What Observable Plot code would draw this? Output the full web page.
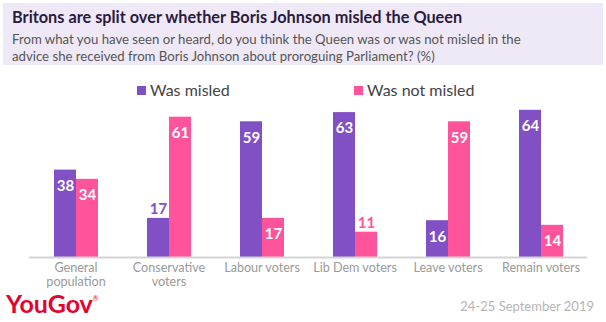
<!DOCTYPE html>
<html><head><meta charset="utf-8">
<script src="https://cdn.jsdelivr.net/npm/d3@7"></script>
<script src="https://cdn.jsdelivr.net/npm/@observablehq/plot@0.6"></script>
<style>
body{margin:0;background:#fff;font-family:Lato,"Open Sans",sans-serif;}
#wrap{position:relative;width:606px;height:322px;overflow:hidden;}
#chart{position:absolute;left:0;top:0;}
#head{position:absolute;left:3px;top:3px;width:600px;height:62px;background:#efe9f7;}
#title{position:absolute;left:9px;top:4px;font-size:16.3px;font-weight:700;color:#2b1b3f;white-space:nowrap;}
#sub{position:absolute;left:9px;top:28px;width:520px;font-size:13.2px;line-height:16.5px;color:#555;}
.leg{position:absolute;top:80px;font-size:16px;color:#444;white-space:nowrap;}
.sw{display:inline-block;width:9px;height:9px;margin-right:4px;vertical-align:1px;}
#logo{position:absolute;left:6px;top:292px;height:22px;font-size:25px;line-height:22px;font-weight:700;color:#e4032e;}
#logo span{position:relative;top:-12px;font-size:7px;font-weight:400;}
#date{position:absolute;right:12px;top:298px;font-size:13px;color:#b5b5b5;}
</style></head>
<body><div id="wrap"></div>
<script>
const title = "Britons are split over whether Boris Johnson misled the Queen";
const subtitle = "From what you have seen or heard, do you think the Queen was or was not misled in the advice she received from Boris Johnson about proroguing Parliament? (%)";
const groups = ["General population","Conservative voters","Labour voters","Lib Dem voters","Leave voters","Remain voters"];
const tickLabels = ["General\npopulation","Conservative\nvoters","Labour voters","Lib Dem voters","Leave voters","Remain voters"];
const series = ["Was misled","Was not misled"];
const colors = ["#8150c5","#ff549b"];
const misled = [38,17,59,63,16,64];
const notMisled = [34,61,17,11,59,14];
// value labels drawn above the bar rather than inside
const misledLabelAbove = ["Conservative voters"];
const notMisledLabelAbove = ["Lib Dem voters"];
const source = "24-25 September 2019";
const brand = "YouGov";

const data = groups.flatMap((g,i)=>[
  {group:g, series:series[0], value:misled[i], above:misledLabelAbove.includes(g)},
  {group:g, series:series[1], value:notMisled[i], above:notMisledLabelAbove.includes(g)}
]);

const plot = Plot.plot({
  width:606, height:322,
  marginTop:96, marginBottom:65, marginLeft:26, marginRight:17,
  style:{fontFamily:"Lato, 'Open Sans', sans-serif", background:"transparent"},
  fx:{domain:groups, padding:0, label:null},
  x:{domain:series, paddingInner:0, paddingOuter:1.04, axis:null},
  y:{domain:[0,70], axis:null},
  color:{domain:series, range:colors},
  marks:[
    Plot.barY(data,{fx:"group", x:"series", y:"value", fill:"series"}),
    Plot.ruleY([0],{stroke:"#d4d4d4", strokeWidth:2}),
    Plot.text(data.filter(d=>!d.above),{fx:"group", x:"series", y:"value", text:d=>String(d.value), dy:16, fill:"white", fontWeight:"bold", fontSize:15}),
    Plot.text(data.filter(d=>d.above),{fx:"group", x:"series", y:"value", text:d=>String(d.value), dy:-9, fill:"series", fontWeight:"bold", fontSize:15}),
    Plot.axisFx({anchor:"bottom", tickSize:0, tickPadding:5, fontSize:12.6, lineHeight:1.1, fill:"#9a9a9a", label:null,
      tickFormat:g=>tickLabels[groups.indexOf(g)]})
  ]
});
plot.id = "chart";
const wrap = document.getElementById("wrap");
wrap.appendChild(plot);
wrap.insertAdjacentHTML("beforeend", `
<div id="head"><div id="title">${title}</div><div id="sub">${subtitle}</div></div>
<div class="leg" style="left:137px"><span class="sw" style="background:${colors[0]}"></span>${series[0]}</div>
<div class="leg" style="left:354px"><span class="sw" style="background:${colors[1]}"></span>${series[1]}</div>
<div id="logo">${brand}<span>®</span></div>
<div id="date">${source}</div>`);
</script></body></html>
